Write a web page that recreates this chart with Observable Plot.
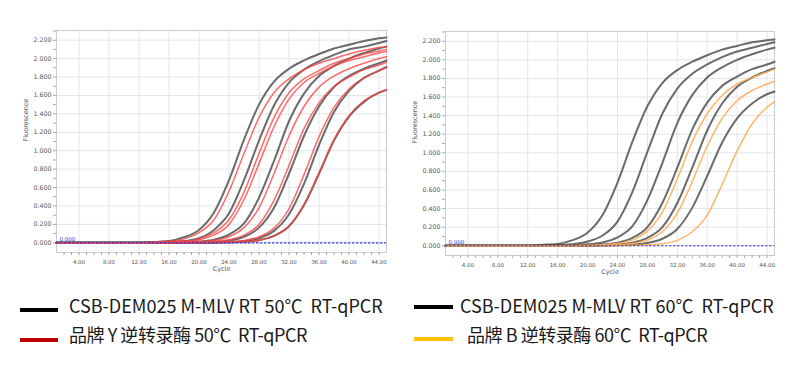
<!DOCTYPE html>
<html><head><meta charset="utf-8">
<script src="https://cdn.jsdelivr.net/npm/d3@7"></script>
<script src="https://cdn.jsdelivr.net/npm/@observablehq/plot@0.6"></script>
<style>
html,body{margin:0;padding:0;background:#fff}
body{width:806px;height:370px;overflow:hidden;position:relative;font-family:"Noto Sans CJK SC",sans-serif}
#left{position:absolute;left:0;top:0}
#right{position:absolute;left:400px;top:0}
.leg{position:absolute;font-size:18px;color:#1a1a1a;white-space:pre;line-height:18px}
.leg.cn{letter-spacing:-0.45px}
.sw{position:absolute;height:4px}
</style></head><body>
<div id="left"></div><div id="right"></div>
<div class="sw" style="left:20px;top:308px;width:38px;background:#000"></div>
<div class="sw" style="left:20px;top:338px;width:38px;background:#c00000"></div>
<div class="sw" style="left:414px;top:305px;width:39px;background:#000"></div>
<div class="sw" style="left:414px;top:337px;width:39px;background:#ffc000"></div>
<div class="leg" id="l1" style="left:69px;top:296px"></div>
<div class="leg cn" id="l2" style="left:69px;top:325px"></div>
<div class="leg" id="r1" style="left:460px;top:296px"></div>
<div class="leg cn" id="r2" style="left:467px;top:325px"></div>
<script>
const cycles = [1, 8, 12, 14, 16, 18, 20, 22, 24, 26, 28, 30, 32, 34, 36, 38, 40, 42, 44, 45];

// CSB-DEM025 M-MLV RT 50℃ (black, left)
const csb50 = [
  [0,0,0,0.01,0.02,0.06,0.14,0.33,0.68,1.12,1.50,1.75,1.89,1.98,2.05,2.11,2.15,2.19,2.22,2.23],
  [0,0,0,0,0.01,0.02,0.05,0.14,0.32,0.68,1.11,1.49,1.74,1.88,1.97,2.04,2.10,2.13,2.17,2.19],
  [0,0,0,0,0,0.005,0.015,0.035,0.09,0.21,0.49,0.89,1.32,1.62,1.81,1.92,2.00,2.06,2.11,2.13],
  [0,0,0,0,0,0,0.006,0.011,0.026,0.066,0.165,0.38,0.75,1.16,1.48,1.69,1.81,1.89,1.95,1.98],
  [0,0,0,0,0,0,0,0.003,0.009,0.019,0.052,0.13,0.31,0.64,1.06,1.42,1.65,1.79,1.87,1.91],
  [0,0,0,0,0,0,0,0.002,0.004,0.013,0.029,0.075,0.18,0.41,0.75,1.11,1.37,1.53,1.63,1.66]
];
// 品牌 Y 50℃ (red, left)
const brandY50 = [
  [0,0,0,0.008,0.016,0.043,0.11,0.25,0.56,0.97,1.36,1.63,1.78,1.88,1.95,2.00,2.05,2.09,2.12,2.13],
  [0,0,0,0,0.008,0.016,0.043,0.11,0.25,0.55,0.97,1.36,1.63,1.78,1.87,1.95,2.00,2.05,2.08,2.10],
  [0,0,0,0.002,0.005,0.014,0.033,0.086,0.20,0.47,0.86,1.26,1.56,1.74,1.84,1.92,1.98,2.02,2.06,2.08],
  [0,0,0,0,0.002,0.006,0.011,0.025,0.066,0.165,0.38,0.75,1.16,1.48,1.69,1.81,1.89,1.95,2.00,2.02],
  [0,0,0,0,0,0.002,0.005,0.014,0.033,0.084,0.20,0.46,0.84,1.24,1.52,1.70,1.80,1.88,1.93,1.96],
  [0,0,0,0,0,0,0.002,0.006,0.011,0.025,0.065,0.16,0.37,0.74,1.15,1.47,1.67,1.79,1.87,1.90],
  [0,0,0,0,0,0,0,0.002,0.004,0.013,0.029,0.076,0.18,0.41,0.76,1.12,1.38,1.54,1.63,1.66]
];
// CSB-DEM025 M-MLV RT 60℃ (black, right)
const csb60 = [
  [0,0,0,0.01,0.02,0.06,0.14,0.33,0.68,1.12,1.50,1.75,1.89,1.98,2.05,2.11,2.15,2.19,2.21,2.22],
  [0,0,0,0,0.008,0.017,0.045,0.11,0.26,0.58,1.01,1.42,1.69,1.85,1.95,2.03,2.09,2.13,2.17,2.19],
  [0,0,0,0,0,0.005,0.015,0.035,0.09,0.21,0.49,0.89,1.32,1.62,1.81,1.92,2.00,2.06,2.11,2.13],
  [0,0,0,0,0,0.002,0.005,0.014,0.033,0.084,0.20,0.46,0.84,1.25,1.54,1.72,1.82,1.90,1.95,1.98],
  [0,0,0,0,0,0,0.002,0.005,0.014,0.033,0.084,0.20,0.46,0.84,1.24,1.53,1.71,1.81,1.88,1.91],
  [0,0,0,0,0,0,0,0.002,0.004,0.013,0.029,0.075,0.18,0.41,0.75,1.11,1.37,1.53,1.63,1.66]
];
// 品牌 B 60℃ (orange, right)
const brandB60 = [
  [0,0,0,0,0,0.002,0.005,0.011,0.024,0.063,0.16,0.36,0.72,1.12,1.42,1.62,1.74,1.81,1.87,1.90],
  [0,0,0,0,0,0,0.002,0.005,0.01,0.023,0.061,0.15,0.35,0.69,1.07,1.37,1.56,1.67,1.74,1.77],
  [0,0,0,0,0,0,0,0,0.002,0.005,0.01,0.022,0.058,0.15,0.33,0.66,1.02,1.31,1.49,1.55]
];

const xTicks = [4, 8, 12, 16, 20, 24, 28, 32, 36, 40, 44];
const yTicks = [0, 0.2, 0.4, 0.6, 0.8, 1.0, 1.2, 1.4, 1.6, 1.8, 2.0, 2.2];
const legendLeft = ["CSB-DEM025 M-MLV RT 50℃  RT-qPCR", "品牌 Y 逆转录酶 50℃  RT-qPCR"];
const legendRight = ["CSB-DEM025 M-MLV RT 60℃  RT-qPCR", "品牌 B 逆转录酶 60℃  RT-qPCR"];

function toRows(curves, group) {
  return curves.flatMap((vals, k) => vals.map((v, i) => ({cycle: cycles[i], value: v, id: group + k})));
}

function chart(ref, comp, compColor, compOpacity, m) {
  const refRows = toRows(ref, "a");
  const compRows = toRows(comp, "b");
  const axisColor = "#555";
  return Plot.plot({
    width: 400, height: 280,
    marginLeft: m.left, marginRight: m.right, marginTop: m.top, marginBottom: m.bottom,
    x: {domain: [1, 45], label: null},
    y: {domain: [-0.105, 2.305], label: null},
    style: {fontFamily: "DejaVu Sans", background: "white", overflow: "visible"},
    marks: [
      Plot.gridX(xTicks, {stroke: "#e2e5e9", strokeOpacity: 1}),
      Plot.gridY(yTicks, {stroke: "#e2e5e9", strokeOpacity: 1}),
      Plot.frame({stroke: "#c9cdd3"}),
      Plot.axisX(d3.range(2, 45, 1), {tickSize: 3, tickFormat: () => "", stroke: "#aaa", label: null}),
      Plot.axisX(xTicks, {tickSize: 0, tickPadding: 8, tickFormat: d => d.toFixed(2), fontSize: 5.5, fill: axisColor, label: null}),
      Plot.axisY(d3.range(0, 2.31, 0.1), {tickSize: 3, tickFormat: () => "", stroke: "#aaa", label: null}),
      Plot.axisY(yTicks, {tickSize: 0, tickPadding: 5, tickFormat: d => d.toFixed(3), fontSize: 6.3, fill: axisColor, label: null}),
      Plot.line(refRows, {x: "cycle", y: "value", z: "id", stroke: "#4a4a4a", strokeWidth: 2, strokeOpacity: 0.82, curve: "monotone-x"}),
      Plot.line(compRows, {x: "cycle", y: "value", z: "id", stroke: compColor, strokeWidth: 1.5, strokeOpacity: compOpacity, curve: "monotone-x"}),
      Plot.ruleY([0], {stroke: "#3a3ad6", strokeDasharray: "2.5,1.5", strokeWidth: 1.2}),
      Plot.text(["0.000"], {x: 1.4, y: 0, dy: -4, textAnchor: "start", fill: "#3a3ad6", fontSize: 5.5}),
      Plot.text(["Cycle"], {frameAnchor: "bottom", dy: 18, fontSize: 6.5, fill: axisColor}),
      Plot.text(["Fluorescence"], {frameAnchor: "left", rotate: -90, dx: -31, fontSize: 6.5, fill: axisColor})
    ]
  });
}

document.getElementById("left").append(chart(csb50, brandY50, "#ff4040", 0.78, {left: 56, right: 14, top: 30, bottom: 28}));
document.getElementById("right").append(chart(csb60, brandB60, "#ffa850", 0.85, {left: 45, right: 26, top: 31, bottom: 25}));
document.getElementById("l1").textContent = legendLeft[0];
document.getElementById("l2").textContent = legendLeft[1];
document.getElementById("r1").textContent = legendRight[0];
document.getElementById("r2").textContent = legendRight[1];
</script>
</body></html>
